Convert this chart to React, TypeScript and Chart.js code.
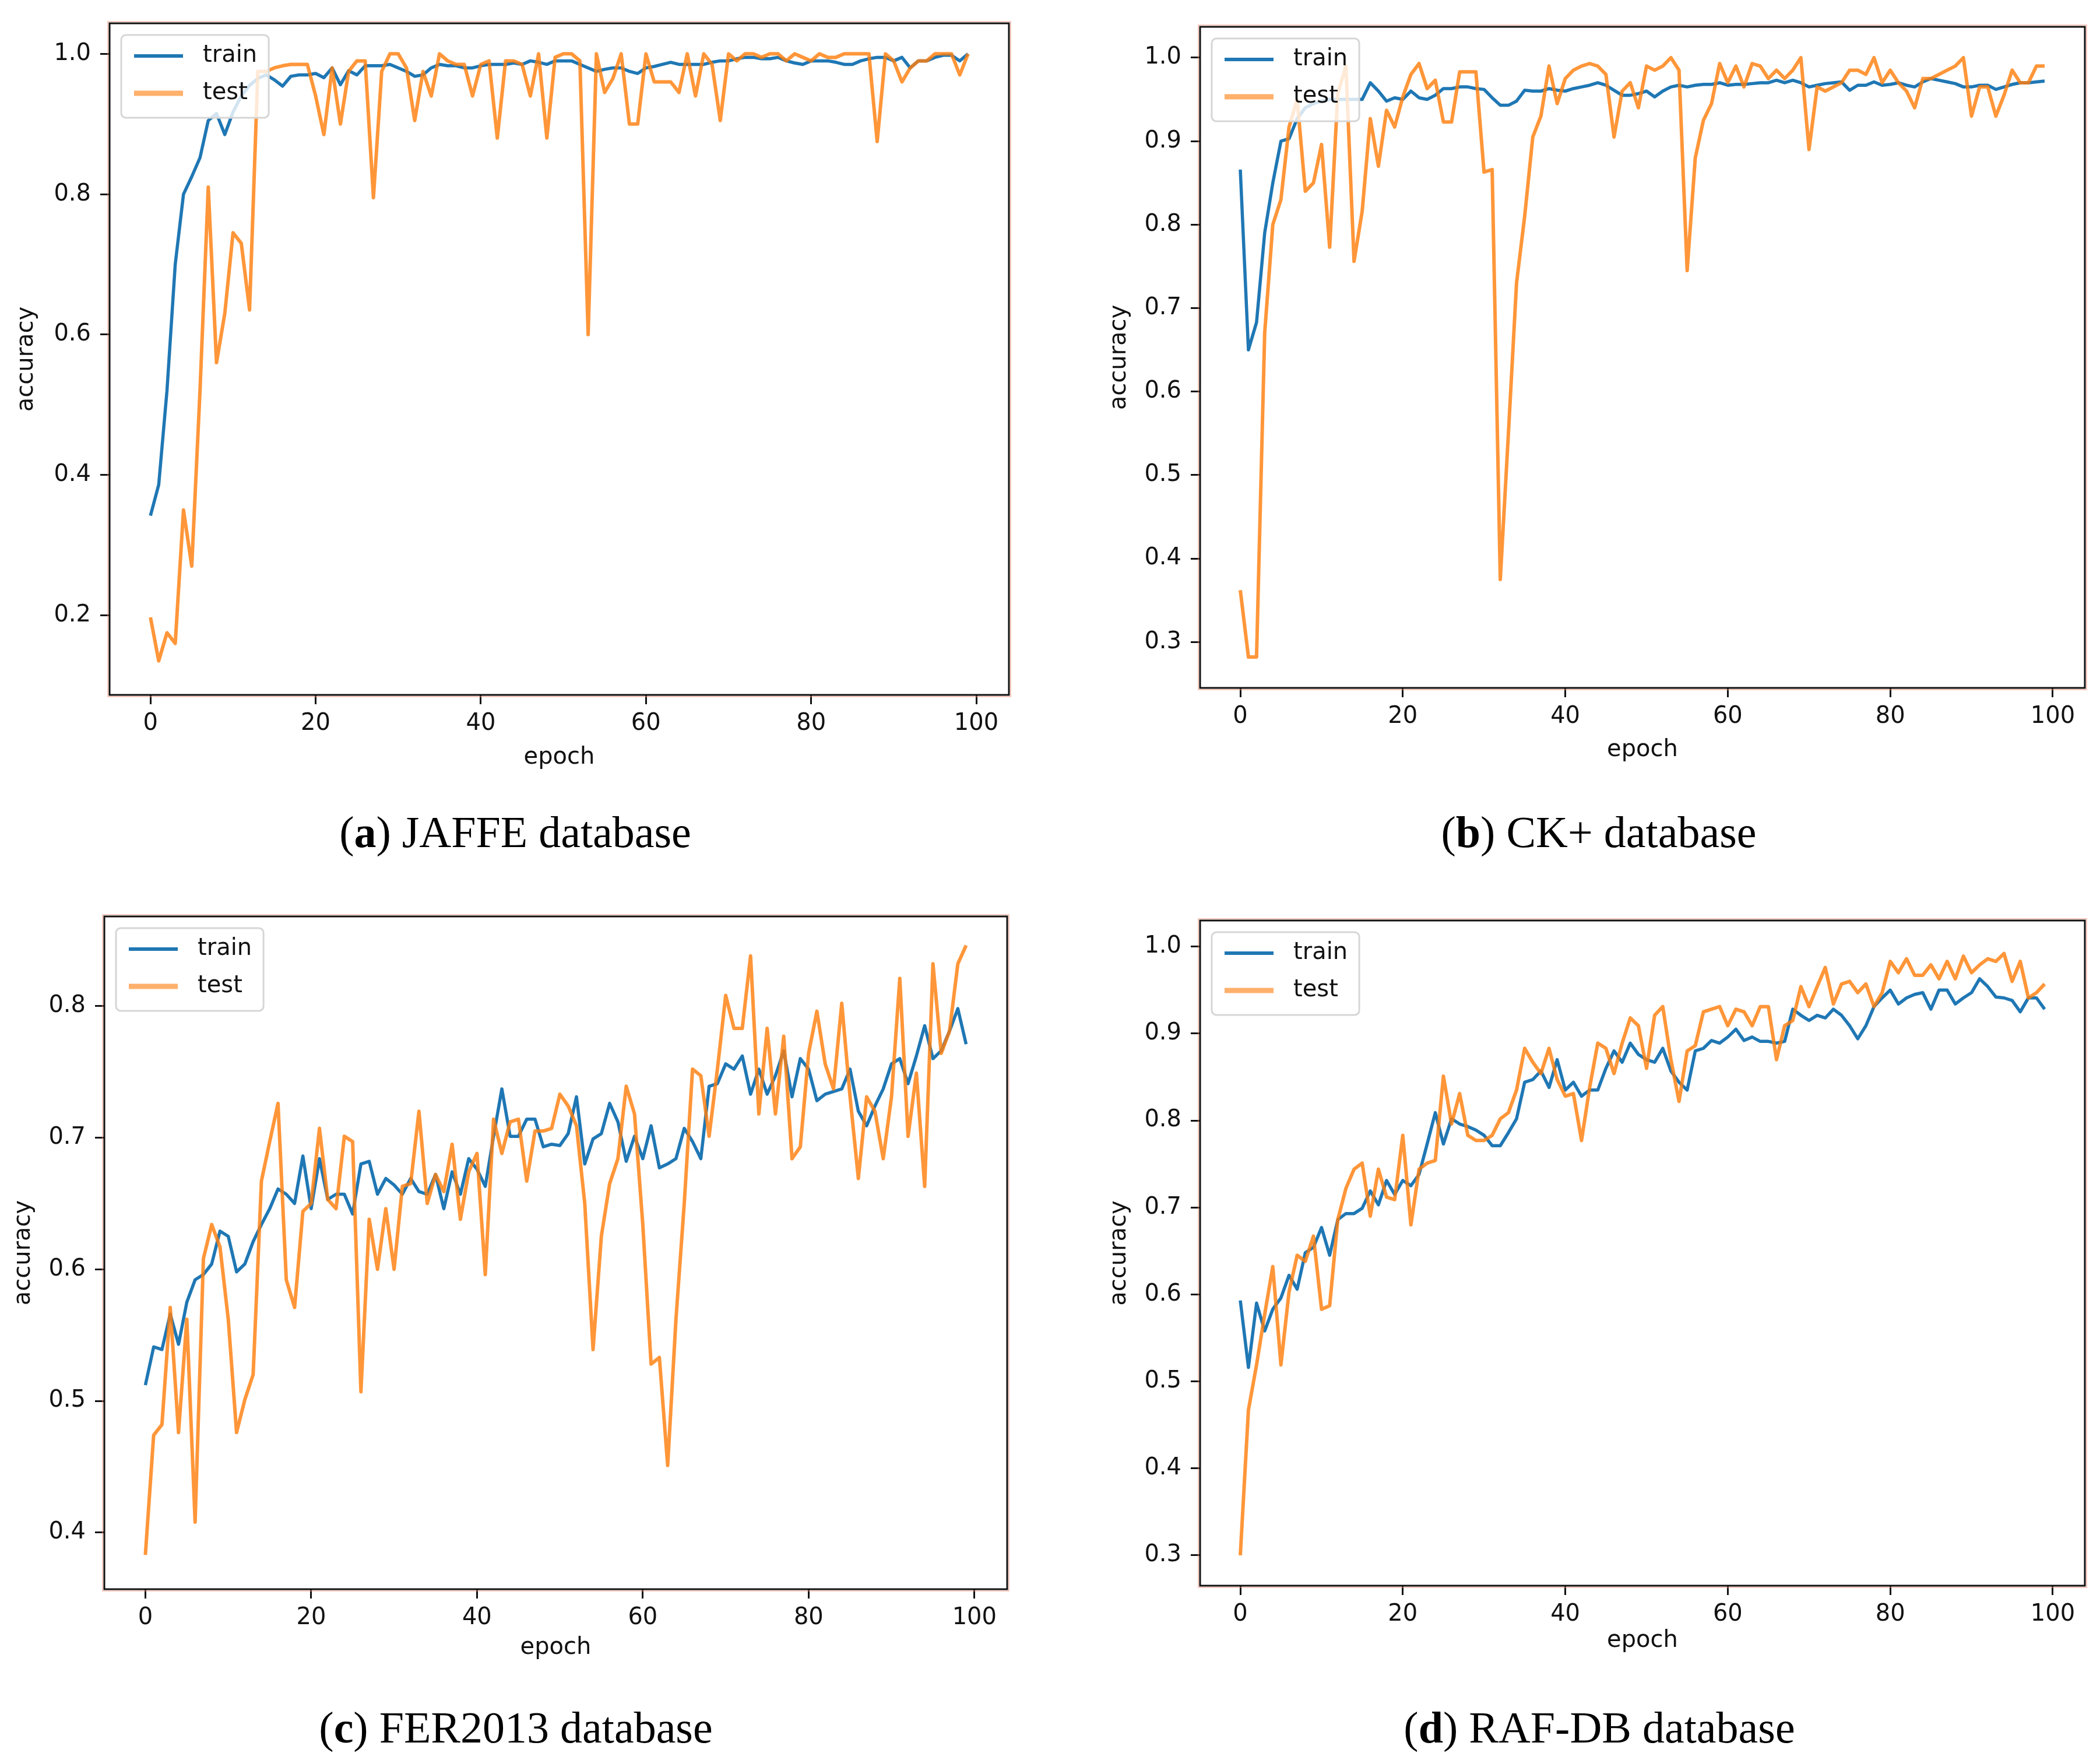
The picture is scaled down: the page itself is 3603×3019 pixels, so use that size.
import { useEffect, useRef } from 'react';
import { Chart, registerables } from 'chart.js';

Chart.register(...registerables);
Chart.defaults.font.family = '"DejaVu Sans", sans-serif';

// ---- data (accuracy per epoch) ----
const epochTicks = [0, 20, 40, 60, 80, 100];

const jaffeTrain = [
  0.342, 0.386, 0.52, 0.70, 0.80, 0.825, 0.852, 0.905, 0.915, 0.885,
  0.917, 0.94, 0.955, 0.965, 0.97, 0.963, 0.954, 0.968, 0.97, 0.97,
  0.972, 0.966, 0.98, 0.956, 0.976, 0.97, 0.983, 0.983, 0.983, 0.985,
  0.98, 0.975, 0.968, 0.97, 0.98, 0.985, 0.983, 0.983, 0.98, 0.98,
  0.983, 0.985, 0.985, 0.985, 0.987, 0.985, 0.99, 0.988, 0.985, 0.99,
  0.99, 0.99, 0.985, 0.98, 0.975, 0.978, 0.98, 0.98, 0.975, 0.972,
  0.98, 0.982, 0.985, 0.988, 0.985, 0.985, 0.985, 0.985, 0.988, 0.99,
  0.99, 0.993, 0.995, 0.995, 0.993, 0.993, 0.995, 0.99, 0.987, 0.985,
  0.99, 0.99, 0.99, 0.988, 0.985, 0.985, 0.99, 0.993, 0.995, 0.995,
  0.99, 0.995, 0.98, 0.99, 0.99, 0.995, 0.998, 0.998, 0.99, 1.0,
];
const jaffeTest = [
  0.197, 0.135, 0.175, 0.16, 0.35, 0.27, 0.52, 0.81, 0.56, 0.63,
  0.745, 0.73, 0.635, 0.975, 0.975, 0.98, 0.983, 0.985, 0.985, 0.985,
  0.94, 0.885, 0.98, 0.90, 0.975, 0.99, 0.99, 0.795, 0.975, 1.0,
  1.0, 0.98, 0.905, 0.975, 0.94, 1.0, 0.99, 0.985, 0.985, 0.94,
  0.985, 0.99, 0.88, 0.99, 0.99, 0.985, 0.94, 1.0, 0.88, 0.995,
  1.0, 1.0, 0.99, 0.60, 1.0, 0.945, 0.965, 1.0, 0.90, 0.90,
  1.0, 0.96, 0.96, 0.96, 0.945, 1.0, 0.94, 1.0, 0.985, 0.905,
  1.0, 0.99, 1.0, 1.0, 0.995, 1.0, 1.0, 0.99, 1.0, 0.995,
  0.99, 1.0, 0.995, 0.995, 1.0, 1.0, 1.0, 1.0, 0.875, 1.0,
  0.99, 0.96, 0.98, 0.99, 0.99, 1.0, 1.0, 1.0, 0.97, 1.0,
];
const jaffeYTicks = [0.2, 0.4, 0.6, 0.8, 1.0];

const ckTrain = [
  0.866, 0.65, 0.683, 0.79, 0.85, 0.90, 0.903, 0.927, 0.94, 0.945,
  0.948, 0.95, 0.95, 0.95, 0.95, 0.95, 0.97, 0.96, 0.948, 0.952,
  0.95, 0.96, 0.952, 0.95, 0.955, 0.963, 0.963, 0.965, 0.965, 0.963,
  0.962, 0.952, 0.943, 0.943, 0.948, 0.961, 0.96, 0.96, 0.963, 0.961,
  0.96, 0.963, 0.965, 0.967, 0.97, 0.967, 0.961, 0.955, 0.955, 0.957,
  0.96, 0.953, 0.96, 0.965, 0.967, 0.965, 0.967, 0.968, 0.968, 0.97,
  0.967, 0.968, 0.968, 0.969, 0.97, 0.97, 0.973, 0.97, 0.973, 0.97,
  0.965, 0.967, 0.969, 0.97, 0.971, 0.961, 0.967, 0.967, 0.971, 0.967,
  0.968, 0.97, 0.967, 0.965, 0.971, 0.975, 0.973, 0.971, 0.969, 0.965,
  0.965, 0.967, 0.967, 0.962, 0.965, 0.968, 0.97, 0.97, 0.971, 0.972,
];
const ckTest = [
  0.362, 0.282, 0.282, 0.67, 0.80, 0.83, 0.917, 0.95, 0.84, 0.85,
  0.896, 0.773, 0.957, 0.99, 0.756, 0.816, 0.927, 0.87, 0.937, 0.917,
  0.953, 0.98, 0.993, 0.963, 0.973, 0.923, 0.923, 0.983, 0.983, 0.983,
  0.863, 0.866, 0.375, 0.55, 0.73, 0.81, 0.905, 0.93, 0.99, 0.945,
  0.975, 0.985, 0.99, 0.993, 0.99, 0.98, 0.905, 0.96, 0.97, 0.94,
  0.99, 0.985, 0.99, 1.0, 0.985, 0.745, 0.88, 0.925, 0.945, 0.993,
  0.97, 0.99, 0.965, 0.993, 0.99, 0.975, 0.985, 0.975, 0.985, 1.0,
  0.89, 0.965, 0.96, 0.965, 0.97, 0.985, 0.985, 0.98, 1.0, 0.97,
  0.985, 0.97, 0.96, 0.94, 0.975, 0.975, 0.98, 0.985, 0.99, 1.0,
  0.93, 0.965, 0.965, 0.93, 0.955, 0.985, 0.97, 0.97, 0.99, 0.99,
];
const ckYTicks = [0.3, 0.4, 0.5, 0.6, 0.7, 0.8, 0.9, 1.0];

const ferTrain = [
  0.512, 0.541, 0.539, 0.566, 0.543, 0.575, 0.592, 0.596, 0.604, 0.629,
  0.625, 0.598, 0.604, 0.621, 0.634, 0.646, 0.661, 0.657, 0.65, 0.686,
  0.646, 0.684, 0.653, 0.657, 0.657, 0.642, 0.68, 0.682, 0.657, 0.669,
  0.664, 0.657, 0.669, 0.659, 0.657, 0.672, 0.646, 0.674, 0.657, 0.684,
  0.676, 0.663, 0.701, 0.737, 0.701, 0.701, 0.714, 0.714, 0.693, 0.695,
  0.694, 0.703, 0.731, 0.68, 0.699, 0.703, 0.726, 0.712, 0.682, 0.701,
  0.684, 0.709, 0.677, 0.68, 0.684, 0.707, 0.697, 0.684, 0.739, 0.741,
  0.756, 0.752, 0.762, 0.733, 0.752, 0.733, 0.747, 0.766, 0.731, 0.76,
  0.752, 0.728, 0.733, 0.735, 0.737, 0.752, 0.72, 0.709, 0.724, 0.737,
  0.756, 0.76, 0.741, 0.762, 0.785, 0.76, 0.766, 0.781, 0.798, 0.771,
];
const ferTest = [
  0.383, 0.474, 0.482, 0.571, 0.476, 0.562, 0.408, 0.608, 0.634, 0.617,
  0.562, 0.476, 0.501, 0.52, 0.667, 0.697, 0.726, 0.592, 0.571, 0.644,
  0.65, 0.707, 0.653, 0.646, 0.701, 0.697, 0.507, 0.638, 0.60, 0.646,
  0.60, 0.663, 0.665, 0.72, 0.65, 0.672, 0.659, 0.695, 0.638, 0.674,
  0.688, 0.596, 0.714, 0.688, 0.712, 0.714, 0.667, 0.705, 0.705, 0.707,
  0.733, 0.724, 0.709, 0.65, 0.539, 0.625, 0.665, 0.684, 0.739, 0.718,
  0.634, 0.528, 0.533, 0.451, 0.562, 0.65, 0.752, 0.747, 0.701, 0.752,
  0.808, 0.783, 0.783, 0.838, 0.718, 0.783, 0.718, 0.777, 0.684, 0.693,
  0.764, 0.796, 0.756, 0.737, 0.802, 0.731, 0.669, 0.731, 0.72, 0.684,
  0.731, 0.821, 0.701, 0.749, 0.663, 0.832, 0.764, 0.781, 0.832, 0.846,
];
const ferYTicks = [0.4, 0.5, 0.6, 0.7, 0.8];

const rafTrain = [
  0.593, 0.516, 0.59, 0.558, 0.583, 0.596, 0.622, 0.606, 0.648, 0.654,
  0.677, 0.645, 0.686, 0.693, 0.693, 0.699, 0.719, 0.703, 0.731, 0.715,
  0.731, 0.725, 0.738, 0.773, 0.809, 0.773, 0.802, 0.796, 0.793, 0.789,
  0.783, 0.771, 0.771, 0.786, 0.802, 0.844, 0.847, 0.857, 0.838, 0.87,
  0.835, 0.844, 0.828, 0.835, 0.835, 0.86, 0.88, 0.867, 0.889, 0.876,
  0.87, 0.867, 0.883, 0.857, 0.844, 0.835, 0.88, 0.883, 0.892, 0.889,
  0.896, 0.905, 0.892, 0.896, 0.891, 0.891, 0.889, 0.891, 0.928, 0.921,
  0.915, 0.921, 0.918, 0.928, 0.921, 0.909, 0.894, 0.909, 0.931, 0.941,
  0.95, 0.934, 0.941, 0.945, 0.947, 0.928, 0.95, 0.95, 0.934, 0.941,
  0.947, 0.963, 0.954, 0.942, 0.941, 0.938, 0.925, 0.941, 0.941, 0.928,
];
const rafTest = [
  0.30, 0.467, 0.519, 0.577, 0.632, 0.519, 0.603, 0.645, 0.638, 0.667,
  0.583, 0.587, 0.686, 0.722, 0.744, 0.751, 0.69, 0.744, 0.712, 0.709,
  0.783, 0.68, 0.744, 0.751, 0.754, 0.851, 0.796, 0.831, 0.783, 0.777,
  0.777, 0.783, 0.802, 0.809, 0.835, 0.883, 0.867, 0.854, 0.883, 0.847,
  0.828, 0.831, 0.777, 0.838, 0.889, 0.883, 0.854, 0.889, 0.918, 0.909,
  0.86, 0.921, 0.931, 0.87, 0.822, 0.88, 0.886, 0.925, 0.928, 0.931,
  0.909, 0.928, 0.925, 0.909, 0.931, 0.931, 0.87, 0.909, 0.915, 0.954,
  0.931, 0.954, 0.976, 0.934, 0.957, 0.96, 0.947, 0.957, 0.931, 0.947,
  0.983, 0.97, 0.986, 0.967, 0.967, 0.979, 0.963, 0.983, 0.963, 0.989,
  0.97, 0.979, 0.986, 0.983, 0.992, 0.96, 0.983, 0.941, 0.947, 0.957,
];
const rafYTicks = [0.3, 0.4, 0.5, 0.6, 0.7, 0.8, 0.9, 1.0];

const TRAIN_COLOR = '#1f77b4';
const TEST_COLOR = 'rgba(255,127,14,0.82)';
const AXIS_FONT = { family: '"DejaVu Sans", sans-serif', size: 40 };

interface PanelProps {
  train: number[];
  test: number[];
  yTicks: number[];
  yMin: number;
  yMax: number;
  left: number;
  top: number;
  width: number;
  height: number;
  yWidth: number;
  xHeight: number;
  padTop: number;
  padRight: number;
  yTitlePad: number;
  xTitlePad: number;
}

// matplotlib-like box around the axes plus the upper-left legend
const axesDecor = {
  id: 'axesDecor',
  afterDatasetsDraw(chart: Chart) {
    const { ctx, chartArea: a } = chart;
    ctx.save();
    ctx.lineWidth = 2;
    ctx.strokeStyle = 'rgba(240,150,125,0.5)';
    ctx.strokeRect(a.left - 3, a.top - 3, a.width + 6, a.height + 6);
    ctx.lineWidth = 3;
    ctx.strokeStyle = '#111';
    ctx.strokeRect(a.left, a.top, a.width, a.height);

    const bx = a.left + 20;
    const by = a.top + 20;
    ctx.font = '40px "DejaVu Sans", sans-serif';
    const sets = chart.data.datasets;
    const tw = Math.max(...sets.map((d) => ctx.measureText(String(d.label)).width));
    ctx.beginPath();
    ctx.roundRect(bx, by, 140 + tw + 20, 142, 8);
    ctx.fillStyle = 'rgba(255,255,255,0.8)';
    ctx.fill();
    ctx.strokeStyle = '#d6d6d6';
    ctx.lineWidth = 3;
    ctx.stroke();

    sets.forEach((d, i) => {
      const y = by + 36 + i * 64;
      ctx.globalAlpha = i === 0 ? 1 : 0.75;
      ctx.strokeStyle = String(d.borderColor);
      ctx.lineWidth = i === 0 ? 6 : 9;
      ctx.beginPath();
      ctx.moveTo(bx + 22, y);
      ctx.lineTo(bx + 106, y);
      ctx.stroke();
      ctx.globalAlpha = 1;
      ctx.fillStyle = '#111';
      ctx.textBaseline = 'middle';
      ctx.fillText(String(d.label), bx + 140, y);
    });
    ctx.restore();
  },
};

function AccuracyChart(p: PanelProps) {
  const canvasRef = useRef<HTMLCanvasElement>(null);

  useEffect(() => {
    if (!canvasRef.current) return;
    const grid = {
      display: true,
      drawOnChartArea: false,
      drawTicks: true,
      tickLength: 16,
      color: '#111',
      lineWidth: 3,
    };

    const chart = new Chart(canvasRef.current, {
      type: 'line',
      data: {
        datasets: [
          {
            label: 'train',
            data: p.train.map((v, i) => ({ x: i, y: v })),
            borderColor: TRAIN_COLOR,
            borderWidth: 5.5,
            pointRadius: 0,
            tension: 0,
            borderJoinStyle: 'round',
            order: 2,
          },
          {
            label: 'test',
            data: p.test.map((v, i) => ({ x: i, y: v })),
            borderColor: TEST_COLOR,
            borderWidth: 6,
            pointRadius: 0,
            tension: 0,
            borderJoinStyle: 'round',
            order: 1,
          },
        ],
      },
      options: {
        responsive: false,
        animation: false,
        devicePixelRatio: 1,
        layout: { padding: { left: 0, top: p.padTop, right: p.padRight, bottom: 0 } },
        plugins: { legend: { display: false }, tooltip: { enabled: false } },
        scales: {
          x: {
            type: 'linear',
            min: -4.95,
            max: 103.95,
            afterBuildTicks: (axis) => { axis.ticks = epochTicks.map((v) => ({ value: v })); },
            afterFit: (axis) => { axis.height = p.xHeight; },
            grid,
            border: { display: false },
            ticks: {
              autoSkip: false,
              maxRotation: 0,
              minRotation: 0,
              padding: 10,
              color: '#111',
              font: AXIS_FONT,
              callback: (v) => String(v),
            },
            title: {
              display: true,
              text: 'epoch',
              color: '#111',
              font: AXIS_FONT,
              padding: { top: 0, bottom: p.xTitlePad },
            },
          },
          y: {
            type: 'linear',
            min: p.yMin,
            max: p.yMax,
            afterBuildTicks: (axis) => { axis.ticks = p.yTicks.map((v) => ({ value: v })); },
            afterFit: (axis) => { axis.width = p.yWidth; },
            grid,
            border: { display: false },
            ticks: {
              autoSkip: false,
              padding: 16,
              color: '#111',
              font: AXIS_FONT,
              callback: (v) => Number(v).toFixed(1),
            },
            title: {
              display: true,
              text: 'accuracy',
              color: '#111',
              font: AXIS_FONT,
              padding: { top: p.yTitlePad, bottom: 0 },
            },
          },
        },
      },
      plugins: [axesDecor],
    });

    return () => { chart.destroy(); };
  }, [p]);

  return (
    <canvas
      ref={canvasRef}
      width={p.width}
      height={p.height}
      style={{ position: 'absolute', left: p.left, top: p.top, width: p.width, height: p.height }}
    />
  );
}

function Caption({ letter, text, cx, cy }: { letter: string; text: string; cx: number; cy: number }) {
  return (
    <div
      style={{
        position: 'absolute',
        left: cx - 800,
        top: cy - 51,
        width: 1600,
        textAlign: 'center',
        fontFamily: '"Liberation Serif", serif',
        fontSize: 76,
        lineHeight: '90px',
        color: '#000',
        whiteSpace: 'nowrap',
      }}
    >
      (<b>{letter}</b>) {text}
    </div>
  );
}

const panelA: PanelProps = {
  train: jaffeTrain, test: jaffeTest, yTicks: jaffeYTicks, yMin: 0.0865, yMax: 1.0435,
  left: 0, top: 0, width: 1790, height: 1400,
  yWidth: 188, xHeight: 208, padTop: 34, padRight: 59, yTitlePad: 22, xTitlePad: 76,
};
const panelB: PanelProps = {
  train: ckTrain, test: ckTest, yTicks: ckYTicks, yMin: 0.245, yMax: 1.037,
  left: 1800, top: 0, width: 1803, height: 1400,
  yWidth: 259, xHeight: 220, padTop: 46, padRight: 26, yTitlePad: 97, xTitlePad: 89,
};
const panelC: PanelProps = {
  train: ferTrain, test: ferTest, yTicks: ferYTicks, yMin: 0.357, yMax: 0.868,
  left: 0, top: 1500, width: 1790, height: 1400,
  yWidth: 179, xHeight: 174, padTop: 72, padRight: 62, yTitlePad: 17, xTitlePad: 49,
};
const panelD: PanelProps = {
  train: rafTrain, test: rafTest, yTicks: rafYTicks, yMin: 0.265, yMax: 1.03,
  left: 1800, top: 1500, width: 1803, height: 1400,
  yWidth: 259, xHeight: 180, padTop: 79, padRight: 26, yTitlePad: 97, xTitlePad: 61,
};

export default function App() {
  return (
    <div style={{ position: 'absolute', left: 0, top: 0, width: 3603, height: 3019, background: '#fff', overflow: 'hidden' }}>
      <AccuracyChart {...panelA} />
      <AccuracyChart {...panelB} />
      <AccuracyChart {...panelC} />
      <AccuracyChart {...panelD} />
      <Caption letter="a" text="JAFFE database" cx={884} cy={1433} />
      <Caption letter="b" text="CK+ database" cx={2743} cy={1433} />
      <Caption letter="c" text="FER2013 database" cx={885} cy={2969} />
      <Caption letter="d" text="RAF-DB database" cx={2744} cy={2969} />
    </div>
  );
}
